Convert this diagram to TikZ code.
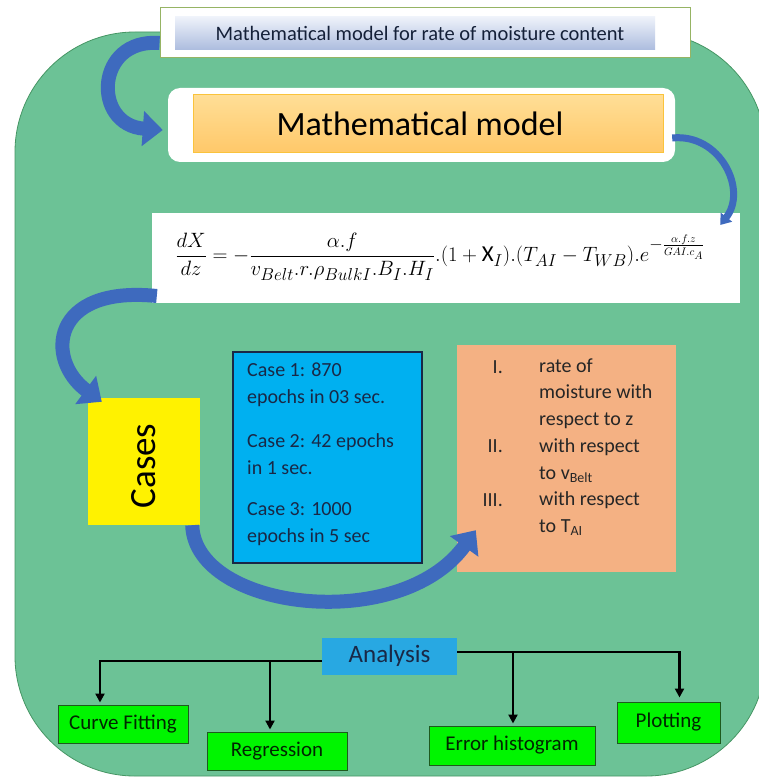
\documentclass[tikz,border=0pt]{standalone}
\usepackage{fontspec}
\setmainfont{Carlito}
\usetikzlibrary{arrows.meta}
\definecolor{bggreen}{RGB}{108,194,150}
\definecolor{bgedge}{RGB}{70,150,100}
\definecolor{arrowblue}{RGB}{62,106,190}
\definecolor{casesblue}{RGB}{0,176,240}
\definecolor{anblue}{RGB}{40,168,226}
\definecolor{salmon}{RGB}{244,177,131}
\definecolor{navytext}{RGB}{25,40,70}
\definecolor{olivebd}{RGB}{150,180,100}
\definecolor{brightgreen}{RGB}{0,245,0}
\definecolor{greenbd}{RGB}{30,90,30}
\tikzset{
  bigarrow/.style={draw=arrowblue, line width=14pt, -{Triangle[width=34pt,length=20pt]}},
  thinarrow/.style={draw=arrowblue, line width=7pt, -{Triangle[width=14pt,length=10pt]}},
  conn/.style={draw=black, line width=2.2pt, -{Triangle[width=9pt,length=9pt]}},
  leafbox/.style={draw=greenbd, line width=1pt, fill=brightgreen, text=black!85!green,
     font=\fontsize{21}{24}\selectfont, inner sep=0pt},
  casetxt/.style={anchor=west, align=left, inner sep=0pt, text=navytext, font=\fontsize{20}{27}\selectfont},
  numtxt/.style={anchor=east, inner sep=0pt, font=\fontsize{20}{24}\selectfont, text=black!85},
}
\begin{document}
\begin{tikzpicture}[x=1pt,y=-1pt]
\useasboundingbox (0,0) rectangle (759,778);
\clip (0,0) rectangle (759,778);
\fill[white] (0,0) rectangle (759,778);
% background
\draw[fill=bggreen, draw=bgedge, line width=0.8pt, rounded corners=120pt] (15,32) rectangle (766,776);

% title
\node[draw=olivebd, line width=1pt, fill=white, minimum width=530pt, minimum height=50pt, inner sep=0pt] (tframe) at (425,33) {};
\node[top color={rgb,255:red,238;green,242;blue,250}, bottom color={rgb,255:red,172;green,188;blue,222},
      minimum width=480pt, minimum height=33pt, inner sep=0pt] (tbar) at (415,33.5) {};
\node[inner sep=0pt, text=navytext!80!black, font=\fontsize{20.5}{24}\selectfont] (title) at (420,33.5)
  {Mathematical model for rate of moisture content};

% mathematical model
\node[fill=white, rounded corners=12pt, minimum width=507pt, minimum height=74pt, inner sep=0pt] (mframe) at (421.5,125) {};
\node[draw={rgb,255:red,250;green,195;blue,60}, line width=1pt,
      top color={rgb,255:red,255;green,222;blue,150}, bottom color={rgb,255:red,255;green,200;blue,105},
      minimum width=470pt, minimum height=58pt, inner sep=0pt] (mbar) at (428,124) {};
\node[inner sep=0pt, font=\fontsize{34}{38}\selectfont] (mm) at (420,124) {Mathematical model};

% equation
\node[fill=white, minimum width=588pt, minimum height=90pt, inner sep=0pt] (eqbox) at (446,258) {};
\node[inner sep=0pt, font=\fontsize{22.8}{27}\selectfont] (eq) at (440,257)
  {$\displaystyle \frac{dX}{dz}=-\frac{\alpha.f}{v_{Belt}.r.\rho_{BulkI}.B_I.H_I}.(1+\mathrm{X}_I).(T_{AI}-T_{WB}).e^{-\frac{\alpha.f.z}{GAI.c_A}}$};

% cases
\node[fill=yellow, minimum width=112pt, minimum height=127pt, inner sep=0pt] (cases) at (144,461.5) {};
\node[rotate=90, font=\fontsize{37}{40}\selectfont] (casestxt) at (144,466) {Cases};

% blue cases box
\node[draw=navytext, line width=2pt, fill=casesblue, minimum width=189pt, minimum height=211pt, inner sep=0pt] (cbox) at (327.5,457.5) {};
\node[casetxt] (c1) at (247,385) {Case 1: 870\\epochs in 03 sec.};
\node[casetxt] (c2) at (247,454) {Case 2: 42 epochs\\in 1 sec.};
\node[casetxt] (c3) at (247,524) {Case 3: 1000\\epochs in 5 sec};

% orange box
\node[fill=salmon, minimum width=219pt, minimum height=227pt, inner sep=0pt] (obox) at (566.5,458.5) {};
\node[numtxt] (n1) at (503,367) {I.};
\node[numtxt] (n2) at (503,446) {II.};
\node[numtxt] (n3) at (503,500) {III.};
\node[anchor=west, align=left, inner sep=0pt, text=black!85, font=\fontsize{20}{26.7}\selectfont] (otxt) at (539,447)
  {rate of\\moisture with\\respect to z\\with respect\\to v\textsubscript{Belt}\\with respect\\to T\textsubscript{AI}};

% analysis
\node[fill=anblue, minimum width=135pt, minimum height=37pt, inner sep=0pt, text=navytext,
      font=\fontsize{25}{28}\selectfont] (an) at (389.5,656) {Analysis};

% leaves
\node[leafbox, minimum width=130pt, minimum height=38pt] (cf) at (123,724) {Curve Fitting};
\node[leafbox, minimum width=140pt, minimum height=38pt] (rg) at (277,751) {Regression};
\node[leafbox, minimum width=166pt, minimum height=39pt] (eh) at (512,745.5) {Error histogram};
\node[leafbox, minimum width=103pt, minimum height=41pt] (pl) at (668.5,722.5) {Plotting};

% connectors
\coordinate (Lj) at ([yshift=-5pt]an.west);
\coordinate (Rj) at ([yshift=4pt]an.east);
\coordinate (cfin) at ([xshift=-23pt,yshift=2pt]cf.north);
\coordinate (rgin) at ([xshift=-7pt,yshift=2pt]rg.north);
\coordinate (ehin) at ([xshift=1pt,yshift=2pt]eh.north);
\coordinate (plin) at ([xshift=11pt,yshift=4pt]pl.north);
\draw[conn] (Lj) -| (cfin);
\draw[conn] (rgin |- Lj) -- (rgin);
\draw[conn] (Rj) -| (plin);
\draw[conn] (ehin |- Rj) -- (ehin);

% big blue arrows
\draw[bigarrow] ([yshift=-10pt]tframe.west) .. controls (95,38) and (92,125) .. ([xshift=-5pt,yshift=-5pt]mframe.west);
\draw[thinarrow] ([xshift=-3pt,yshift=-13pt]mframe.east) .. controls (720,133) and (748,190) .. ([xshift=-20pt,yshift=33pt]eqbox.east);
\draw[bigarrow] ([xshift=5pt,yshift=-38pt]eqbox.west) .. controls (50,285) and (45,360) .. ([xshift=14pt,yshift=-4pt]cases.north west);
\draw[bigarrow] ([xshift=-8pt]cases.south east) .. controls (195,610) and (400,635) .. ([xshift=19pt,yshift=42pt]obox.south west);
\end{tikzpicture}
\end{document}
